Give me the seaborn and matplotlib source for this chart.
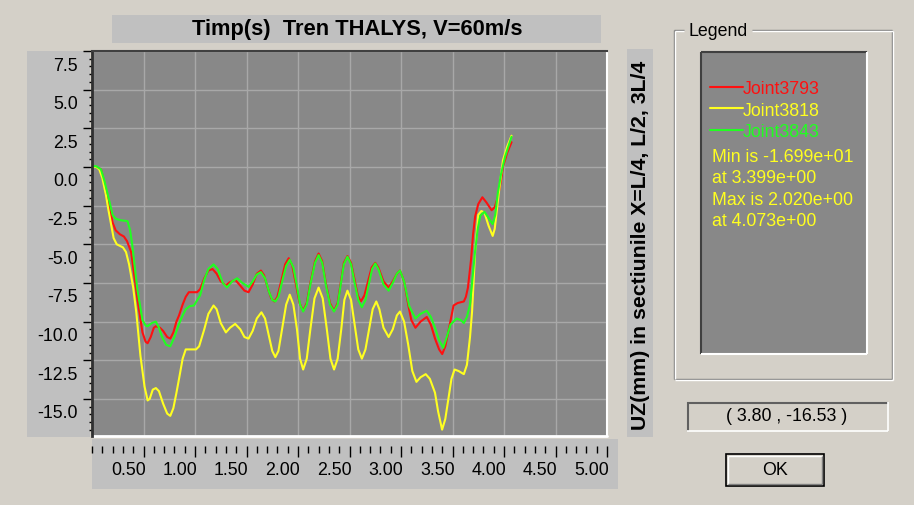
import matplotlib
matplotlib.use("Agg")
import matplotlib.pyplot as plt
import seaborn as sns
import numpy as np
import pandas as pd
from matplotlib.patches import Rectangle
from matplotlib.lines import Line2D
from matplotlib.transforms import ScaledTranslation
from matplotlib.ticker import FixedLocator, MultipleLocator, FormatStrFormatter
from matplotlib import font_manager as fm

# ---------------- data ----------------
series_names = ["Joint3793", "Joint3818", "Joint3843"]
series_colors = ["#ff1010", "#ffff20", "#20ff20"]

t_3793 = [0, 0.04, 0.087, 0.12, 0.15, 0.2, 0.23, 0.27, 0.31, 0.34, 0.38, 0.41, 0.44, 0.49, 0.52,
          0.54, 0.57, 0.60, 0.62, 0.66, 0.69, 0.73, 0.76, 0.79, 0.82, 0.845, 0.88, 0.91, 0.94, 0.98,
          1.02, 1.05, 1.09, 1.13, 1.17, 1.21, 1.25, 1.3, 1.34, 1.39, 1.43, 1.48, 1.52, 1.56, 1.6,
          1.64, 1.67, 1.71, 1.74, 1.77, 1.80, 1.84, 1.875, 1.91, 1.945, 1.98, 2.015, 2.05, 2.085,
          2.12, 2.165, 2.2, 2.235, 2.27, 2.31, 2.35, 2.385, 2.415, 2.445, 2.48, 2.515, 2.55, 2.58,
          2.61, 2.645, 2.68, 2.715, 2.75, 2.78, 2.83, 2.88, 2.92, 2.96, 2.99, 3.03, 3.07, 3.10,
          3.14, 3.19, 3.25, 3.29, 3.33, 3.37, 3.40, 3.43, 3.46, 3.51, 3.55, 3.61, 3.63, 3.65, 3.68,
          3.70, 3.72, 3.75, 3.79, 3.83, 3.88, 3.91, 3.94, 3.97, 3.99, 4.03, 4.073]
uz_3793 = [0, 0, -0.15, -1.0, -2.0, -3.6, -4.1, -4.35, -4.5, -4.8, -5.5, -7.0, -8.5, -10.7, -11.3,
           -11.4, -11.0, -10.4, -10.3, -10.4, -10.6, -11.0, -11.1, -10.7, -10.0, -9.6, -8.9, -8.4, -8.1, -8.1,
           -8.1, -7.9, -7.2, -6.7, -6.6, -6.9, -7.4, -7.65, -7.45, -7.3, -7.6, -8.0, -8.1, -7.6, -6.9,
           -6.7, -7.0, -7.9, -8.5, -8.7, -8.4, -7.3, -6.3, -5.9, -6.4, -7.6, -8.8, -9.3, -8.8,
           -7.5, -6.1, -5.6, -6.1, -7.5, -8.8, -9.3, -8.8, -7.5, -6.2, -5.76, -6.2, -7.3, -8.3,
           -8.7, -8.3, -7.4, -6.5, -6.2, -6.5, -7.4, -7.8, -7.4, -6.9, -6.7, -7.4, -8.9, -9.9,
           -10.4, -10.0, -9.7, -10.2, -11.1, -11.8, -12.1, -11.6, -10.65, -8.96, -8.8, -8.7, -8.4, -7.8, -6.0,
           -4.35, -3.2, -2.4, -1.96, -2.3, -2.8, -2.6, -1.96, -0.9, 0.0, 0.9, 1.6]

t_3818 = [0, 0.04, 0.07, 0.1, 0.135, 0.16, 0.185, 0.21, 0.24, 0.30, 0.33, 0.36, 0.40, 0.43, 0.47,
          0.51, 0.54, 0.56, 0.59, 0.62, 0.65, 0.69, 0.73, 0.76, 0.79, 0.82, 0.845, 0.88, 0.91, 0.97,
          1.01, 1.04, 1.09, 1.13, 1.18, 1.21, 1.25, 1.3, 1.34, 1.39, 1.44, 1.48, 1.52, 1.56, 1.60,
          1.645, 1.68, 1.72, 1.75, 1.78, 1.81, 1.85, 1.885, 1.92, 1.955, 1.99, 2.02, 2.05, 2.085,
          2.12, 2.16, 2.2, 2.24, 2.28, 2.315, 2.35, 2.385, 2.42, 2.45, 2.48, 2.515, 2.55, 2.585,
          2.62, 2.655, 2.69, 2.725, 2.76, 2.79, 2.83, 2.88, 2.92, 2.96, 2.99, 3.03, 3.07, 3.11,
          3.15, 3.19, 3.24, 3.28, 3.33, 3.36, 3.399, 3.43, 3.46, 3.49, 3.52, 3.56, 3.61, 3.64, 3.67,
          3.69, 3.72, 3.75, 3.78, 3.81, 3.85, 3.89, 3.91, 3.94, 3.97, 3.99, 4.03, 4.073]
uz_3818 = [0, 0, -0.15, -0.7, -1.8, -2.8, -3.7, -4.6, -5.0, -5.2, -5.5, -6.3, -7.8, -9.4, -12.2,
           -14.2, -15.1, -15.0, -14.4, -14.3, -14.5, -15.3, -15.95, -16.1, -15.6, -14.6, -13.7, -12.4, -11.8, -11.8,
           -11.8, -11.6, -10.5, -9.5, -8.96, -9.2, -10.1, -10.7, -10.4, -10.15, -10.5, -11.0, -11.1, -10.6, -9.8,
           -9.4, -9.8, -11.0, -11.9, -12.3, -11.9, -10.3, -8.9, -8.26, -8.9, -10.5, -12.4, -13.1, -12.4,
           -10.5, -8.5, -7.8, -8.5, -10.5, -12.4, -13.1, -12.4, -10.5, -8.6, -8.0, -8.6, -10.2, -11.8,
           -12.4, -11.8, -10.5, -9.2, -8.7, -9.2, -10.4, -11.0, -10.5, -9.6, -9.35, -10.0, -11.5, -13.2,
           -13.9, -13.6, -13.4, -13.7, -14.6, -15.8, -16.99, -16.3, -15.0, -13.7, -13.1, -13.2, -13.4, -12.8, -11.0,
           -9.35, -5.4, -3.1, -2.85, -2.95, -3.8, -4.46, -4.0, -2.2, -0.6, 0.43, 1.3, 2.02]

t_3843 = [0, 0.04, 0.087, 0.12, 0.15, 0.2, 0.23, 0.28, 0.345, 0.37, 0.39, 0.44, 0.49, 0.52, 0.54,
          0.58, 0.62, 0.65, 0.68, 0.72, 0.76, 0.80, 0.845, 0.88, 0.91, 0.95, 0.99, 1.05, 1.09, 1.13,
          1.18, 1.22, 1.27, 1.31, 1.36, 1.41, 1.46, 1.52, 1.56, 1.60, 1.64, 1.68, 1.72, 1.75, 1.78,
          1.81, 1.85, 1.885, 1.92, 1.955, 1.99, 2.02, 2.05, 2.085, 2.12, 2.165, 2.2, 2.235, 2.27,
          2.31, 2.35, 2.385, 2.415, 2.445, 2.48, 2.515, 2.55, 2.585, 2.62, 2.655, 2.69, 2.72, 2.75,
          2.78, 2.83, 2.88, 2.92, 2.96, 2.99, 3.03, 3.08, 3.14, 3.19, 3.25, 3.29, 3.33, 3.37, 3.41,
          3.44, 3.48, 3.54, 3.58, 3.61, 3.64, 3.67, 3.70, 3.72, 3.745, 3.77, 3.81, 3.85, 3.89, 3.915,
          3.94, 3.97, 4.01, 4.073]
uz_3843 = [0.05, 0.05, -0.15, -0.9, -1.7, -3.1, -3.35, -3.45, -3.5, -4.1, -5.0, -7.9, -9.9, -10.25, -10.3,
           -10.1, -10.0, -10.4, -11.0, -11.5, -11.6, -11.0, -10.15, -9.6, -9.2, -9.0, -8.96, -8.3, -7.3, -6.6,
           -6.3, -6.6, -7.5, -7.8, -7.4, -7.2, -7.5, -7.76, -7.4, -6.95, -6.8, -7.2, -8.1, -8.6, -8.7,
           -8.4, -7.3, -6.4, -6.0, -6.5, -7.7, -8.9, -9.35, -8.9, -7.6, -6.2, -5.7, -6.2, -7.6,
           -8.9, -9.35, -8.9, -7.6, -6.3, -5.8, -6.3, -7.5, -8.6, -9.07, -8.6, -7.5, -6.6, -6.24,
           -6.6, -7.6, -8.0, -7.5, -6.9, -6.7, -7.4, -9.0, -9.8, -9.5, -9.3, -9.7, -10.4, -11.2, -11.7,
           -11.1, -10.2, -9.8, -9.9, -10.1, -9.7, -8.9, -6.8, -5.4, -4.0, -3.15, -2.9, -3.3, -3.7, -3.1,
           -1.7, -0.5, 0.65, 1.95]

x_major_ticks = [0.5, 1.0, 1.5, 2.0, 2.5, 3.0, 3.5, 4.0, 4.5, 5.0]
y_major_ticks = [-15.0, -12.5, -10.0, -7.5, -5.0, -2.5, 0.0, 2.5, 5.0, 7.5]

title_text = "Timp(s)  Tren THALYS, V=60m/s"
ylabel_text = "UZ(mm) in sectiunile X=L/4, L/2, 3L/4"
stats_lines = ["Min is -1.699e+01", "at 3.399e+00", "Max is 2.020e+00", "at 4.073e+00"]
coord_text = "( 3.80 , -16.53 )"

# ---------------- fonts ----------------
sns.set_style("white")


def has_font(name):
    try:
        fm.findfont(fm.FontProperties(family=name), fallback_to_default=False)
        return True
    except Exception:
        return False


if has_font("Liberation Sans Narrow"):
    FONT, K = "Liberation Sans Narrow", 1.0
else:
    FONT, K = "Liberation Sans", 0.85
plt.rcParams["font.family"] = [FONT, "DejaVu Sans"]
FS = 15 * K

W, H = 914, 506
BG = "#d4d0c8"
BAND = "#c0c0c0"
PLOTBG = "#888888"

fig = plt.figure(figsize=(W / 100, H / 100), dpi=100)
fig.patch.set_facecolor(BG)


def frect(x0, y0, x1, y1, **kw):
    r = Rectangle((x0 / W, 1 - y1 / H), (x1 - x0) / W, (y1 - y0) / H,
                  transform=fig.transFigure, **kw)
    fig.add_artist(r)
    return r


def fline(xs, ys, color, lw=1.0, z=-0.5):
    fig.add_artist(Line2D([x / W for x in xs], [1 - y / H for y in ys],
                          transform=fig.transFigure, color=color, lw=lw, zorder=z,
                          solid_capstyle="butt"))


# bands
frect(112, 16, 601, 44, facecolor=BAND, edgecolor="none", zorder=-1)
frect(27, 52, 90, 438, facecolor=BAND, edgecolor="none", zorder=-1)
frect(92, 440, 618, 490, facecolor=BAND, edgecolor="none", zorder=-1)
frect(627, 50, 653, 438, facecolor=BAND, edgecolor="none", zorder=-1)

# ---------------- main axes ----------------
ax = fig.add_axes([92 / W, 1 - 437 / H, (607 - 92) / W, (437 - 52) / H])
ax.set_facecolor(PLOTBG)

frames = []
for name, t, uz in [("Joint3793", t_3793, uz_3793), ("Joint3818", t_3818, uz_3818),
                    ("Joint3843", t_3843, uz_3843)]:
    frames.append(pd.DataFrame({"t": t, "uz": uz, "joint": name}))
df = pd.concat(frames, ignore_index=True)

sns.lineplot(data=df, x="t", y="uz", hue="joint", hue_order=series_names,
             palette=dict(zip(series_names, series_colors)), estimator=None,
             sort=False, linewidth=1.5, legend=False, ax=ax)
data_lines = list(ax.get_lines()[:3])

ax.set_xlim(0, 5.0)
ax.set_ylim(-17.4, 7.5)
ax.set_xlabel("")
ax.set_ylabel("")

ax.xaxis.set_major_locator(FixedLocator(x_major_ticks))
ax.xaxis.set_minor_locator(MultipleLocator(0.1))
ax.xaxis.set_major_formatter(FormatStrFormatter("%.2f"))
ax.yaxis.set_major_locator(FixedLocator(y_major_ticks))
ax.yaxis.set_minor_locator(MultipleLocator(0.5))
ax.yaxis.set_major_formatter(FormatStrFormatter("%.1f"))

ax.grid(True, which="major", color="#a8a8a8", linewidth=1.0)
ax.set_axisbelow(True)

ax.spines["bottom"].set_position(("outward", 7.2))
ax.spines["bottom"].set_edgecolor("none")
ax.spines["left"].set_edgecolor("#303030")
ax.spines["left"].set_linewidth(2.0)
ax.spines["top"].set_edgecolor("#404040")
ax.spines["top"].set_linewidth(1.5)
ax.spines["right"].set_edgecolor("white")
ax.spines["right"].set_linewidth(1.5)
ax.add_line(Line2D([0, 1], [0, 0], transform=ax.transAxes, color="white", lw=2.0, clip_on=False))

ax.tick_params(axis="both", which="both", bottom=True, left=True, top=False, right=False)
ax.tick_params(axis="x", which="major", direction="out", length=8, width=1, color="black",
               pad=3, labelsize=FS, labelcolor="black")
ax.tick_params(axis="x", which="minor", direction="out", length=5, width=1, color="black")
ax.tick_params(axis="y", which="major", direction="out", length=6.5, width=1, color="black",
               pad=3.5, labelsize=FS, labelcolor="black")
ax.tick_params(axis="y", which="minor", direction="out", length=2, width=1, color="black")

for lab in ax.get_xticklabels():
    lab.set_horizontalalignment("right")
    lab.set_transform(lab.get_transform() + ScaledTranslation(2 / 100, 0, fig.dpi_scale_trans))
for lab in ax.get_yticklabels():
    lab.set_transform(lab.get_transform() + ScaledTranslation(0, -12 / 100, fig.dpi_scale_trans))

# title and y label
fig.text(357 / W, 1 - 30 / H, title_text, ha="center", va="center", fontsize=18.5 * K,
         fontweight="bold", color="black")
fig.text(640 / W, 1 - 245 / H, ylabel_text, ha="center", va="center", rotation=90,
         fontsize=18 * K, fontweight="bold", color="black")

# ---------------- legend panel ----------------
fx0, fy0, fx1, fy1 = 674, 31, 893, 380
for off, col in [(0, "#808080"), (1, "white")]:
    fline([fx0 + off, fx0 + off], [fy0 + off, fy1], col)
    fline([fx0 + off, 684], [fy0 + off, fy0 + off], col)
    fline([752, fx1 + off - 1], [fy0 + off, fy0 + off], col)
    fline([fx1 + off - 1, fx1 + off - 1], [fy0 + off, fy1 + off], col)
    fline([fx0 + off, fx1 + off - 1], [fy1 + off, fy1 + off], col)
fig.text(688 / W, 1 - 31 / H, "Legend", ha="left", va="center", fontsize=FS, color="black")

frect(701, 53, 867, 355, facecolor=PLOTBG, edgecolor="none", zorder=-1)
fline([701, 867], [53, 53], "#404040", 1.5)
fline([701, 701], [53, 355], "#404040", 1.5)
fline([701, 867], [355, 355], "white", 1.5)
fline([867, 867], [53, 355], "white", 1.5)

leg = fig.legend(data_lines, series_names, loc="upper left",
                 bbox_to_anchor=(710 / W, 1 - 81 / H), frameon=False,
                 prop=fm.FontProperties(family=FONT, size=FS), labelcolor="linecolor",
                 handlelength=1.85, handletextpad=0.0, labelspacing=0.26,
                 borderpad=0, borderaxespad=0)

for i, s in enumerate(stats_lines):
    fig.text(712 / W, 1 - (157 + 21.6 * i) / H, s, ha="left", va="center", fontsize=FS,
             color="#ffff20")

frect(687, 403, 888, 432, facecolor=BG, edgecolor="none", zorder=-1)
fline([687, 888], [403.5, 403.5], "#606060", 1.5)
fline([687.5, 687.5], [403, 432], "#606060", 1.5)
fline([687, 888], [431.5, 431.5], "white", 1.2)
fline([887.5, 887.5], [403, 432], "white", 1.2)
fig.text(787 / W, 1 - 417 / H, coord_text, ha="center", va="center", fontsize=FS, color="black")

frect(726, 455, 824, 487, facecolor=BG, edgecolor="black", linewidth=1.2, zorder=-1)
fline([728, 822], [457, 457], "white", 1.0)
fline([728, 728], [457, 485], "white", 1.0)
fline([728, 822], [485, 485], "#808080", 1.0)
fline([822, 822], [457, 485], "#808080", 1.0)
fig.text(775 / W, 1 - 471 / H, "OK", ha="center", va="center", fontsize=FS, color="black")

fig.savefig("out.png", dpi=100, facecolor=BG)
